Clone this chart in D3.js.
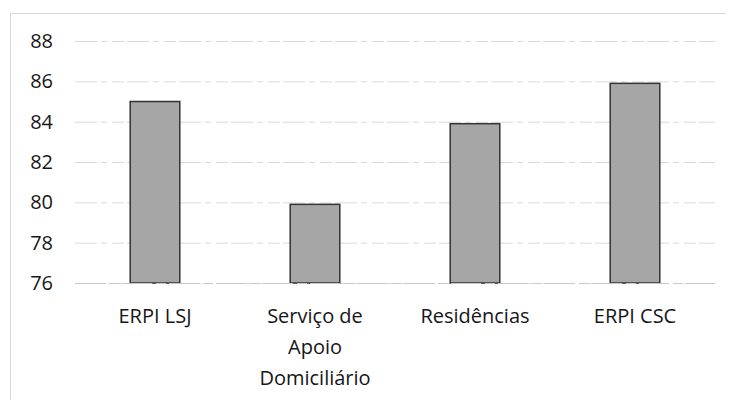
<!DOCTYPE html>
<html>
<head>
<meta charset="utf-8">
<script src="https://cdn.jsdelivr.net/npm/d3@7"></script>
<style>
  body { margin: 0; background: #fff; }
  svg { font-family: "Open Sans", "Liberation Sans", sans-serif; }
</style>
</head>
<body>
<script>
// chart data
var categories = ["ERPI LSJ", "Serviço de Apoio Domiciliário", "Residências", "ERPI CSC"];
var labelLines = [["ERPI LSJ"], ["Serviço de", "Apoio", "Domiciliário"], ["Residências"], ["ERPI CSC"]];
var values = [85, 79.9, 83.9, 85.9];
var yTicks = [76, 78, 80, 82, 84, 86, 88];

var width = 733,
    height = 400;

var svg = d3.select("body")
    .append("svg")
    .attr("width", width)
    .attr("height", height);

// faint frame of the scanned chart
svg.append("path")
    .attr("d", "M10.5,400 V13.5 H726")
    .attr("fill", "none")
    .attr("stroke", "#d6d6d6")
    .attr("stroke-width", 1);

var x = d3.scaleBand()
    .domain(categories)
    .range([75, 715])
    .paddingInner(0.69)
    .paddingOuter(0.345);

var y = d3.scaleLinear()
    .domain([76, 88])
    .range([283, 41]);

// gridlines
svg.append("g")
    .selectAll("line")
    .data(yTicks)
    .enter().append("line")
    .attr("x1", 75)
    .attr("x2", 715)
    .attr("y1", function(d) { return y(d) + 0.5; })
    .attr("y2", function(d) { return y(d) + 0.5; })
    .attr("stroke", "#dadada")
    .attr("stroke-dasharray", "22,4,6,5,12,3");

// y axis labels
var yAxis = svg.append("g")
    .attr("transform", "translate(53,0)")
    .call(d3.axisLeft(y).tickValues(yTicks).tickSize(0).tickPadding(0));
yAxis.select(".domain").remove();
yAxis.selectAll("text")
    .attr("font-size", "20px")
    .attr("font-family", "'Open Sans', sans-serif")
    .attr("fill", "#161616");

// bars
svg.append("g")
    .selectAll("rect")
    .data(values)
    .enter().append("rect")
    .attr("x", function(d, i) { return x(categories[i]); })
    .attr("y", function(d) { return y(d); })
    .attr("width", x.bandwidth())
    .attr("height", function(d) { return y(76) - y(d); })
    .attr("fill", "#a6a6a6")
    .attr("stroke", "#333")
    .attr("stroke-width", 1.5);

// baseline
svg.append("line")
    .attr("x1", 75)
    .attr("x2", 715)
    .attr("y1", y(76) + 0.5)
    .attr("y2", y(76) + 0.5)
    .attr("stroke", "#c8c8c8")
    .attr("stroke-dasharray", "30,4,10,3");

// category labels
var cats = svg.append("g")
    .selectAll("text")
    .data(categories)
    .enter().append("text")
    .attr("text-anchor", "middle")
    .attr("font-size", "20px")
    .attr("fill", "#161616")
    .attr("x", function(d) { return x(d) + x.bandwidth() / 2; })
    .attr("y", 323);

cats.each(function(d, i) {
    d3.select(this).selectAll("tspan")
        .data(labelLines[i])
        .enter().append("tspan")
        .attr("x", x(d) + x.bandwidth() / 2)
        .attr("dy", function(t, j) { return j === 0 ? 0 : 31; })
        .text(function(t) { return t; });
});
</script>
</body>
</html>
